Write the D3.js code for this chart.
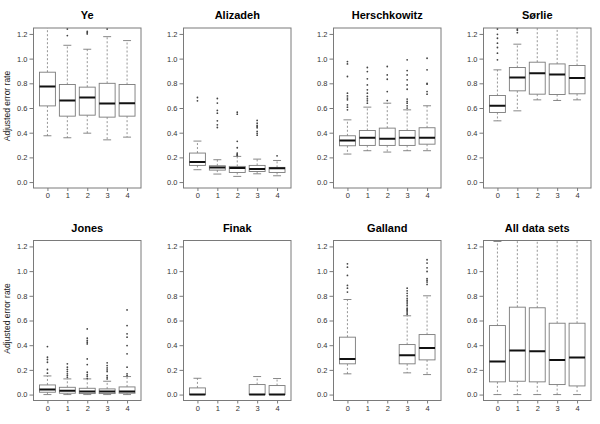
<!DOCTYPE html>
<html><head><meta charset="utf-8">
<script src="https://cdn.jsdelivr.net/npm/d3@7"></script>
<style>body{margin:0;background:#fff}svg{display:block}</style>
</head><body>
<script>
// ---- data ----
const panelNames = ["Ye","Alizadeh","Herschkowitz","Sørlie","Jones","Finak","Galland","All data sets"];
const categories = ["0","1","2","3","4"];
const yTicks = [0.0,0.2,0.4,0.6,0.8,1.0,1.2];
// each row: [lower whisker, Q1, median, Q3, upper whisker] per category (null = no data)
const yeStats = [[0.375,0.617,0.774,0.89,1.32],[0.359,0.534,0.66,0.79,1.108],[0.396,0.542,0.685,0.769,1.076],[0.342,0.526,0.636,0.80,1.178],[0.364,0.534,0.639,0.79,1.146]];
const yeOut = [[],[1.187,1.24],[1.20,1.21,1.22],[1.24],[]];
const alizadehStats = [[0.10,0.135,0.162,0.235,0.332],[0.065,0.097,0.119,0.132,0.181],[0.046,0.078,0.113,0.127,0.208],[0.067,0.086,0.105,0.135,0.186],[0.051,0.078,0.111,0.119,0.175]];
const alizadehOut = [[0.685,0.658],[0.677,0.64,0.58,0.558,0.496,0.464,0.442],[0.566,0.55,0.33,0.278,0.235,0.227,0.22,0.215],[0.499,0.477,0.46,0.45,0.44,0.41,0.395,0.38],[0.213]];
const herschStats = [[0.227,0.294,0.337,0.375,0.504],[0.254,0.297,0.359,0.418,0.607],[0.243,0.297,0.351,0.437,0.639],[0.254,0.297,0.359,0.418,0.585],[0.254,0.307,0.359,0.44,0.618]];
const herschOut = [[0.976,0.957,0.855,0.72,0.698,0.68,0.666,0.626,0.607,0.585],[0.928,0.895,0.836,0.787,0.747,0.72,0.693,0.674,0.658,0.639],[0.936,0.868,0.833,0.733,0.66],[0.99,0.903,0.868,0.828,0.787,0.752,0.672,0.653,0.639,0.618,0.599],[1.003,0.909,0.80,0.793,0.733,0.712]];
const sorlieStats = [[0.496,0.564,0.618,0.701,0.909],[0.577,0.739,0.847,0.928,1.117],[0.666,0.712,0.882,0.971,1.32],[0.661,0.709,0.871,0.957,1.32],[0.666,0.715,0.844,0.944,1.32]];
const sorlieOut = [[1.24,1.197,1.165,1.125,1.09,1.044,0.99],[1.24,1.23,1.21],[],[],[]];
const jonesStats = [[0.0,0.019,0.041,0.078,0.151],[0.0,0.011,0.03,0.059,0.127],[0.0,0.008,0.024,0.051,0.127],[0.0,0.008,0.024,0.046,0.108],[0.0,0.011,0.024,0.062,0.146]];
const jonesOut = [[0.389,0.303,0.284,0.262,0.203,0.173],[0.249,0.222,0.203,0.186,0.168,0.154,0.14],[0.532,0.457,0.438,0.424,0.41,0.289,0.243,0.181,0.162,0.149,0.132],[0.257,0.235,0.216,0.2,0.186,0.154,0.14,0.127],[0.686,0.559,0.492,0.465,0.397,0.33,0.222,0.168,0.154]];
const finakStats = [[0.0,0.0,0.0,0.054,0.132],null,null,[0.0,0.0,0.0,0.081,0.146],[0.0,0.0,0.0,0.073,0.13]];
const finakOut = [[],[],[],[],[]];
const gallandStats = [[0.168,0.249,0.289,0.465,0.77],null,null,[0.176,0.249,0.319,0.405,0.638],[0.162,0.281,0.378,0.486,0.80]];
const gallandOut = [[1.059,1.032,0.965,0.884,0.862,0.83],[],[],[0.862,0.84,0.82,0.80,0.78,0.765,0.75,0.735,0.72,0.70,0.69,0.68,0.67,0.66,0.65],[1.092,1.065,1.027,0.997,0.938,0.924,0.911,0.892]];
const allStats = [[0.0,0.103,0.268,0.559,1.24],[0.0,0.108,0.357,0.708,1.32],[0.0,0.103,0.351,0.703,1.32],[0.0,0.081,0.281,0.578,1.32],[0.0,0.07,0.30,0.578,1.32]];
const allOut = [[],[],[],[],[]];

const statsList = [yeStats,alizadehStats,herschStats,sorlieStats,jonesStats,finakStats,gallandStats,allStats];
const outList = [yeOut,alizadehOut,herschOut,sorlieOut,jonesOut,finakOut,gallandOut,allOut];

// ---- layout ----
const W = 600, H = 424;
const svg = d3.select("body").append("svg").attr("width",W).attr("height",H)
  .style("font-family","'Liberation Sans', Arial, sans-serif");
const pw = 107.5, ph = 160;
const lefts = [33.5,183.5,333.5,483.5];
const tops = [28, 240.5];
const gray = "#7a7a7a";

panelNames.forEach((name,pi)=>{
  const col = pi%4, row = Math.floor(pi/4);
  const x0 = lefts[col], y0 = tops[row];
  const x = d3.scaleLinear().domain([0.3,5.7]).range([x0,x0+pw]);
  const y = d3.scaleLinear().domain([-0.048,1.248]).range([y0+ph,y0]);
  const g = svg.append("g");
  const cid = "clip"+pi;
  svg.append("clipPath").attr("id",cid).append("rect").attr("x",x0).attr("y",y0).attr("width",pw).attr("height",ph);
  const pg = g.append("g").attr("clip-path",`url(#${cid})`);
  const bw = (x(2)-x(1))*0.8;
  const stats = statsList[pi], outs = outList[pi];
  categories.forEach((c,i)=>{
    const s = stats[i];
    const cx = x(i+1);
    if(s){
      const [lo,q1,md,q3,hi] = s;
      pg.append("line").attr("x1",cx).attr("x2",cx).attr("y1",y(q3)).attr("y2",y(hi))
        .attr("stroke",gray).attr("stroke-width",0.8).attr("stroke-dasharray","2,2");
      pg.append("line").attr("x1",cx).attr("x2",cx).attr("y1",y(q1)).attr("y2",y(lo))
        .attr("stroke",gray).attr("stroke-width",0.8).attr("stroke-dasharray","2,2");
      [lo,hi].forEach(v=>{
        pg.append("line").attr("x1",cx-bw/4).attr("x2",cx+bw/4).attr("y1",y(v)).attr("y2",y(v))
          .attr("stroke",gray).attr("stroke-width",0.9);
      });
      pg.append("rect").attr("x",cx-bw/2).attr("y",y(q3)).attr("width",bw).attr("height",Math.max(0,y(q1)-y(q3)))
        .attr("fill","#fff").attr("stroke",gray).attr("stroke-width",0.9);
      pg.append("line").attr("x1",cx-bw/2).attr("x2",cx+bw/2).attr("y1",y(md)).attr("y2",y(md))
        .attr("stroke","#111").attr("stroke-width",2);
    }
    pg.selectAll(null).data(outs[i]).enter().append("circle")
      .attr("cx",cx).attr("cy",d=>y(d)).attr("r",0.9).attr("fill","#444");
  });
  g.append("rect").attr("x",x0).attr("y",y0).attr("width",pw).attr("height",ph)
    .attr("fill","none").attr("stroke",gray).attr("stroke-width",1);
  const ya = d3.axisLeft(y).tickValues(yTicks).tickFormat(d3.format(".1f")).tickSize(4).tickPadding(2);
  const yg = g.append("g").attr("transform",`translate(${x0},0)`).call(ya);
  yg.select(".domain").remove();
  yg.selectAll("line").attr("stroke",gray);
  yg.selectAll("text").attr("font-size","7.5px").attr("fill","#333").attr("font-family","'Liberation Sans', Arial, sans-serif");
  const xa = d3.axisBottom(x).tickValues([1,2,3,4,5]).tickFormat((d,i)=>categories[i]).tickSize(3).tickPadding(2);
  const xg = g.append("g").attr("transform",`translate(0,${y0+ph})`).call(xa);
  xg.select(".domain").remove();
  xg.selectAll("line").attr("stroke",gray);
  xg.selectAll("text").attr("font-size","7.5px").attr("fill","#333").attr("font-family","'Liberation Sans', Arial, sans-serif");
  g.append("text").attr("x",x0+pw/2).attr("y",y0-9).attr("text-anchor","middle")
    .attr("font-size","11px").attr("font-weight","bold").attr("fill","#000").text(name);
  if(col===0){
    g.append("text").attr("transform",`translate(9.5,${y0+ph/2-2}) rotate(-90)`).attr("text-anchor","middle")
      .attr("font-size","8.5px").attr("fill","#222").text("Adjusted error rate");
  }
});
</script>
</body></html>
